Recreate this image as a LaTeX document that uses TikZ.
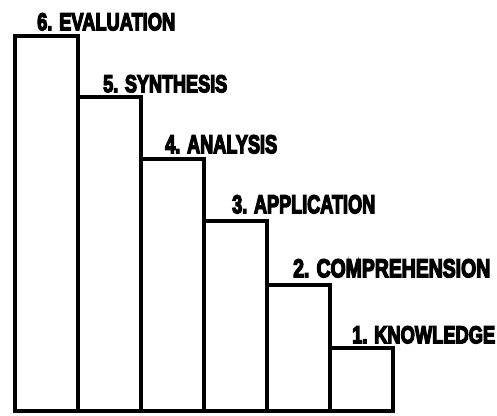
\documentclass[tikz,border=0pt]{standalone}
\usepackage{fontspec}
\usepackage{graphicx}
\setmainfont{Liberation Sans}
\newfontfamily\heavyfont[FakeBold=6]{Liberation Sans Bold}
\tikzset{
  barbox/.style={draw=black, line width=3.4pt, line join=miter},
  lbl/.style={inner sep=0pt, anchor=north west}
}
\newcommand{\lab}[3]{\resizebox{#1pt}{#2pt}{\heavyfont #3}}
\begin{document}
\begin{tikzpicture}[x=1pt,y=-1pt]
\useasboundingbox (0,0) rectangle (497,415);
% bars
\draw[barbox] (15,411) rectangle (78,36);
\draw[barbox] (78,411) rectangle (141,97);
\draw[barbox] (141,411) rectangle (204,159);
\draw[barbox] (204,411) rectangle (267,221);
\draw[barbox] (267,411) rectangle (330,285);
\draw[barbox] (330,411) rectangle (393,348);
% labels
\node[lbl] (l6) at (37,13) {\lab{138}{17}{6. EVALUATION}};
\node[lbl] (l5) at (103,75) {\lab{124}{17}{5. SYNTHESIS}};
\node[lbl] (l4) at (165,135) {\lab{112}{18}{4. ANALYSIS}};
\node[lbl] (l3) at (232,195) {\lab{143}{18}{3. APPLICATION}};
\node[lbl] (l2) at (293,259) {\lab{197}{18}{2. COMPREHENSION}};
\node[lbl] (l1) at (352,326) {\lab{143}{17}{1. KNOWLEDGE}};
\end{tikzpicture}
\end{document}
